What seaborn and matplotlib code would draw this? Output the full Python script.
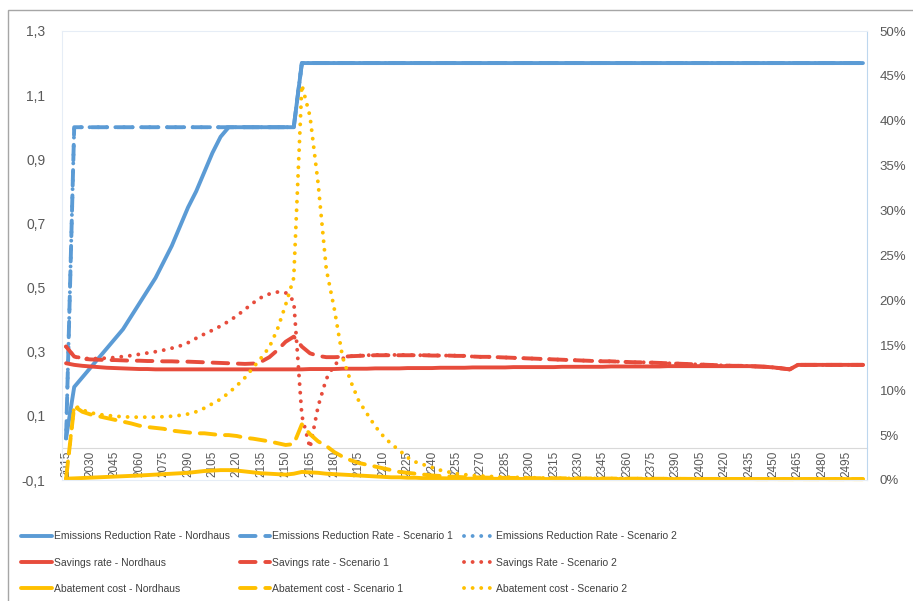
import matplotlib
matplotlib.use("Agg")
import matplotlib.pyplot as plt
import seaborn as sns
import pandas as pd
from matplotlib import font_manager
from matplotlib.lines import Line2D
from matplotlib.patches import Rectangle
from matplotlib.ticker import FuncFormatter

# ------------------------------------
# --- Data, 5-year steps 2015-2505
# ------------------------------------
years = list(range(2015, 2510, 5))

# Emissions reduction rate (left axis)
emis_nordhaus = [0.03, 0.19, 0.22, 0.25, 0.28, 0.31, 0.34, 0.37, 0.41, 0.45,
                 0.49, 0.53, 0.58, 0.63, 0.69, 0.75, 0.80, 0.86, 0.92, 0.97] + [1.0] * 9 + [1.2] * 70
emis_scen1 = [0.03] + [1.0] * 28 + [1.2] * 70
emis_scen2 = [0.03] + [1.0] * 28 + [1.2] * 70

# Savings rate (left axis)
sav_nordhaus = [
    0.264, 0.259, 0.256, 0.254, 0.252, 0.250, 0.249, 0.248, 0.247, 0.246,
    0.246, 0.245, 0.245, 0.245, 0.245, 0.245, 0.245, 0.245, 0.245, 0.245,
    0.245, 0.245, 0.245, 0.245, 0.245, 0.245, 0.245, 0.245, 0.245, 0.245,
    0.246, 0.246, 0.246, 0.246, 0.247, 0.247, 0.247, 0.247, 0.248, 0.248,
    0.248, 0.248, 0.249, 0.249, 0.249, 0.249, 0.250, 0.250, 0.250, 0.250,
    0.251, 0.251, 0.251, 0.251, 0.251, 0.252, 0.252, 0.252, 0.252, 0.252,
    0.252, 0.253, 0.253, 0.253, 0.253, 0.253, 0.253, 0.254, 0.254, 0.254,
    0.254, 0.254, 0.254, 0.254, 0.255, 0.255, 0.255, 0.255, 0.255, 0.255,
    0.255, 0.255, 0.255, 0.255, 0.255, 0.254, 0.253, 0.251, 0.248, 0.245,
    0.259, 0.259, 0.259, 0.259, 0.259, 0.259, 0.259, 0.259, 0.259,
]
sav_scen1 = [
    0.316, 0.285, 0.278, 0.276, 0.275, 0.274, 0.274, 0.273, 0.272, 0.272,
    0.271, 0.271, 0.270, 0.270, 0.269, 0.269, 0.268, 0.267, 0.266, 0.265,
    0.264, 0.263, 0.262, 0.263, 0.269, 0.283, 0.305, 0.331, 0.347, 0.316,
    0.295, 0.287, 0.283, 0.283, 0.284, 0.286, 0.287, 0.288, 0.289, 0.289,
    0.289, 0.289, 0.289, 0.289, 0.289, 0.288, 0.288, 0.288, 0.287, 0.287,
    0.285, 0.284, 0.284, 0.283, 0.282, 0.281, 0.280, 0.279, 0.278, 0.277,
    0.276, 0.275, 0.274, 0.273, 0.272, 0.271, 0.270, 0.270, 0.269, 0.268,
    0.267, 0.267, 0.266, 0.265, 0.264, 0.263, 0.262, 0.261, 0.260, 0.259,
    0.258, 0.257, 0.256, 0.256, 0.255, 0.254, 0.253, 0.251, 0.248, 0.245,
    0.259, 0.259, 0.259, 0.259, 0.259, 0.259, 0.259, 0.259, 0.259,
]
sav_scen2 = [
    0.316, 0.285, 0.280, 0.278, 0.279, 0.280, 0.282, 0.285, 0.288, 0.292,
    0.296, 0.300, 0.305, 0.311, 0.318, 0.328, 0.342, 0.355, 0.367, 0.380,
    0.395, 0.412, 0.432, 0.452, 0.469, 0.480, 0.486, 0.484, 0.458, 0.100,
    0.000, 0.130, 0.215, 0.259, 0.279, 0.286, 0.288, 0.289, 0.290, 0.290,
    0.290, 0.290, 0.290, 0.289, 0.289, 0.289, 0.288, 0.288, 0.288, 0.287,
    0.285, 0.284, 0.284, 0.283, 0.282, 0.281, 0.280, 0.279, 0.278, 0.277,
    0.276, 0.275, 0.274, 0.273, 0.272, 0.271, 0.270, 0.270, 0.269, 0.268,
    0.267, 0.267, 0.266, 0.265, 0.264, 0.263, 0.262, 0.261, 0.260, 0.259,
    0.258, 0.257, 0.256, 0.256, 0.255, 0.254, 0.253, 0.251, 0.248, 0.245,
    0.259, 0.259, 0.259, 0.259, 0.259, 0.259, 0.259, 0.259, 0.259,
]

# Abatement cost in % (right axis)
abat_nordhaus = [
    0.15, 0.18, 0.22, 0.26, 0.30, 0.34, 0.38, 0.42, 0.46, 0.50,
    0.55, 0.60, 0.65, 0.70, 0.75, 0.80, 0.90, 1.00, 1.05, 1.10,
    1.10, 1.05, 0.95, 0.85, 0.75, 0.70, 0.65, 0.60, 0.70, 0.90,
    0.85, 0.80, 0.70, 0.65, 0.60, 0.55, 0.50, 0.45, 0.40, 0.35,
    0.30, 0.30, 0.25, 0.25, 0.20, 0.20, 0.20, 0.18, 0.16, 0.15,
    0.15, 0.14, 0.14, 0.13, 0.13, 0.12, 0.12, 0.12, 0.11, 0.11,
] + [0.10] * 39
abat_scen1 = [
    0.15, 8.20, 7.60, 7.30, 7.10, 6.90, 6.70, 6.50, 6.30, 6.05,
    5.90, 5.80, 5.70, 5.50, 5.40, 5.30, 5.20, 5.20, 5.10, 5.00,
    5.00, 4.90, 4.70, 4.60, 4.45, 4.30, 4.10, 3.90, 4.00, 6.20,
    5.10, 4.30, 3.80, 3.10, 2.60, 2.20, 1.90, 1.70, 1.50, 1.30,
    1.10, 0.90, 0.80, 0.70, 0.60, 0.50, 0.45, 0.40, 0.35, 0.30,
    0.30, 0.28, 0.26, 0.25, 0.24, 0.23, 0.22, 0.21, 0.20, 0.20,
    0.19, 0.19, 0.18, 0.18, 0.17, 0.17, 0.16, 0.16, 0.15, 0.15,
    0.15, 0.14, 0.14, 0.14, 0.13, 0.13, 0.13, 0.12, 0.12, 0.12,
    0.12, 0.11, 0.11, 0.11, 0.11, 0.10, 0.10, 0.10, 0.10, 0.10,
] + [0.10] * 9
abat_scen2 = [
    0.15, 8.30, 7.80, 7.50, 7.30, 7.20, 7.10, 7.05, 7.00, 7.00,
    7.00, 7.00, 7.05, 7.10, 7.20, 7.35, 7.60, 8.00, 8.50, 9.00,
    9.70, 10.50, 11.40, 12.50, 13.60, 14.80, 16.80, 19.50, 22.50, 44.00,
    40.50, 33.00, 23.50, 19.00, 13.70, 11.00, 8.80, 7.40, 6.00, 4.90,
    4.00, 3.30, 2.50, 2.00, 1.70, 1.40, 1.10, 0.90, 0.70, 0.60,
    0.50, 0.45, 0.40, 0.36, 0.33, 0.30, 0.28, 0.26, 0.24, 0.22,
    0.19, 0.19, 0.18, 0.18, 0.17, 0.17, 0.16, 0.16, 0.15, 0.15,
    0.15, 0.14, 0.14, 0.14, 0.13, 0.13, 0.13, 0.12, 0.12, 0.12,
    0.12, 0.11, 0.11, 0.11, 0.11, 0.10, 0.10, 0.10, 0.10, 0.10,
] + [0.10] * 9

df = pd.DataFrame({
    'pos': range(len(years)), 'year': years,
    'emis_n': emis_nordhaus, 'emis_s1': emis_scen1, 'emis_s2': emis_scen2,
    'sav_n': sav_nordhaus, 'sav_s1': sav_scen1, 'sav_s2': sav_scen2,
    'abat_n': abat_nordhaus, 'abat_s1': abat_scen1, 'abat_s2': abat_scen2,
})

# ------------------------------------
# --- Style
# ------------------------------------
sns.set_style("white")
installed = {f.name for f in font_manager.fontManager.ttflist}
narrow = 'Liberation Sans Narrow' if 'Liberation Sans Narrow' in installed else 'Liberation Sans'
plt.rcParams['font.family'] = [narrow, 'DejaVu Sans']

BLUE, RED, YELLOW = '#5B9BD5', '#E74C3C', '#FFC000'
GREY_TXT = '#595959'
LW = 2.8
SOLID = '-'
DASH = (0, (4, 2.5))
DOT = (0, (0.01, 2.2))

fig = plt.figure(figsize=(9.13, 6.01), dpi=100)
ax = fig.add_axes([62 / 913, 121 / 601, 805 / 913, 449 / 601])
ax2 = ax.twinx()

left_series = [
    ('emis_n', BLUE, SOLID), ('emis_s1', BLUE, DASH), ('emis_s2', BLUE, DOT),
    ('sav_n', RED, SOLID), ('sav_s1', RED, DASH), ('sav_s2', RED, DOT),
]
right_series = [
    ('abat_n', YELLOW, SOLID), ('abat_s1', YELLOW, DASH), ('abat_s2', YELLOW, DOT),
]

for col, color, ls in left_series:
    sns.lineplot(data=df, x='pos', y=col, ax=ax, color=color, linewidth=LW,
                 linestyle=ls, dash_capstyle='round', legend=False)
for col, color, ls in right_series:
    sns.lineplot(data=df, x='pos', y=col, ax=ax2, color=color, linewidth=LW,
                 linestyle=ls, dash_capstyle='round', legend=False, clip_on=False)

# --- axes
ax.set_xlim(-0.5, len(years) - 0.5)
ax.set_ylim(-0.1, 1.3)
ax.set_yticks([-0.1, 0.1, 0.3, 0.5, 0.7, 0.9, 1.1, 1.3])
ax.yaxis.set_major_formatter(FuncFormatter(lambda v, p: f"{v:.1f}".replace('.', ',')))
ax.set_xticks(df['pos'][::3])
ax.set_xticklabels(df['year'][::3])
ax.set_xlabel('')
ax.set_ylabel('')
ax.tick_params(axis='x', length=0, pad=2, labelsize=8.5, labelcolor=GREY_TXT, rotation=90)
ax.tick_params(axis='y', length=0, pad=12, labelsize=10, labelcolor=GREY_TXT)

ax2.set_ylim(0, 50)
ax2.set_yticks(range(0, 51, 5))
ax2.yaxis.set_major_formatter(FuncFormatter(lambda v, p: f"{v:.0f}%"))
ax2.set_ylabel('')
ax2.tick_params(axis='y', length=0, pad=9, labelsize=9.5, labelcolor=GREY_TXT)

# horizontal category axis sits at value 0 of the left axis
ax.spines['bottom'].set_position(('data', 0))
ax.spines['bottom'].set_color('#d9d9d9')
for s in ['top', 'left', 'right']:
    ax.spines[s].set_visible(False)
for s in ['top', 'left', 'bottom']:
    ax2.spines[s].set_color('#e6edf6')
ax2.spines['right'].set_color('#bdd7ee')

# outer chart border (only left and top visible in the picture)
fig.patches.append(Rectangle((8 / 913, -0.05), 1.0, 1 - 10 / 601 + 0.05, transform=fig.transFigure,
                             fill=False, edgecolor='#a6a6a6', linewidth=1))

# --- legend (column-major order for ncol=3)
def h(color, ls):
    return Line2D([], [], color=color, linewidth=LW, linestyle=ls, dash_capstyle='round')

handles = [h(BLUE, SOLID), h(RED, SOLID), h(YELLOW, SOLID),
           h(BLUE, DASH), h(RED, DASH), h(YELLOW, DASH),
           h(BLUE, DOT), h(RED, DOT), h(YELLOW, DOT)]
labels = ['Emissions Reduction Rate - Nordhaus', 'Savings rate - Nordhaus', 'Abatement cost - Nordhaus',
          'Emissions Reduction Rate - Scenario 1', 'Savings rate - Scenario 1', 'Abatement cost - Scenario 1',
          'Emissions Reduction Rate - Scenario 2', 'Savings Rate - Scenario 2', 'Abatement cost - Scenario 2']
leg = fig.legend(handles, labels, ncol=3, loc='upper left', bbox_to_anchor=(12 / 913, 1 - 522 / 601),
                 frameon=False, fontsize=7.5, handlelength=2.9, handletextpad=0.2,
                 columnspacing=1.0, labelspacing=1.55)
for t in leg.get_texts():
    t.set_color('#404040')

fig.savefig('out.png', dpi=100)
